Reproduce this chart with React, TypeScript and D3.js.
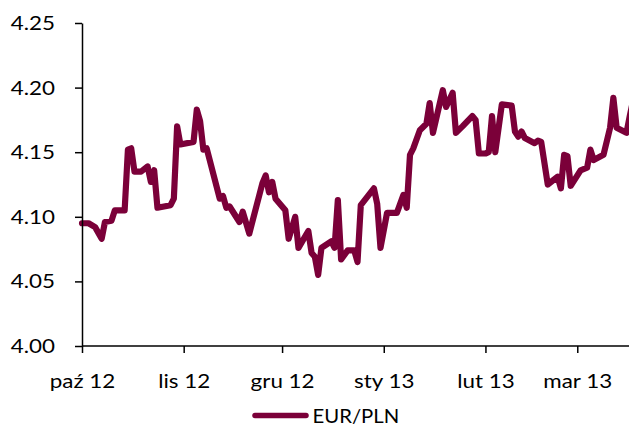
import * as d3 from 'd3';
import { useEffect, useRef } from 'react';

const dates = [
    '2012-10-01', '2012-10-03', '2012-10-05', '2012-10-07', '2012-10-08', '2012-10-10', '2012-10-11',
    '2012-10-13', '2012-10-14', '2012-10-15', '2012-10-16', '2012-10-17', '2012-10-19', '2012-10-21',
    '2012-10-22', '2012-10-23', '2012-10-24', '2012-10-28', '2012-10-29', '2012-10-30', '2012-10-31',
    '2012-11-04', '2012-11-05', '2012-11-06', '2012-11-07', '2012-11-08', '2012-11-12', '2012-11-13',
    '2012-11-14', '2012-11-15', '2012-11-18', '2012-11-19', '2012-11-21', '2012-11-25', '2012-11-26',
    '2012-11-27', '2012-11-28', '2012-11-29', '2012-12-02', '2012-12-03', '2012-12-05', '2012-12-06',
    '2012-12-09', '2012-12-10', '2012-12-11', '2012-12-12', '2012-12-13', '2012-12-16', '2012-12-17',
    '2012-12-18', '2012-12-19', '2012-12-21', '2012-12-23', '2012-12-24', '2012-12-25', '2012-12-29',
    '2012-12-30', '2012-12-31', '2013-01-02', '2013-01-05', '2013-01-07', '2013-01-08', '2013-01-09',
    '2013-01-10', '2013-01-12', '2013-01-14', '2013-01-15', '2013-01-16', '2013-01-19', '2013-01-20',
    '2013-01-22', '2013-01-23', '2013-01-25', '2013-01-28', '2013-01-29', '2013-01-30', '2013-02-01',
    '2013-02-02', '2013-02-03', '2013-02-04', '2013-02-06', '2013-02-09', '2013-02-10', '2013-02-11',
    '2013-02-12', '2013-02-13', '2013-02-16', '2013-02-17', '2013-02-18', '2013-02-20', '2013-02-23',
    '2013-02-24', '2013-02-25', '2013-02-26', '2013-02-27', '2013-03-02', '2013-03-04', '2013-03-05',
    '2013-03-06', '2013-03-09', '2013-03-11', '2013-03-12', '2013-03-13', '2013-03-16', '2013-03-17',
    '2013-03-18',
];

const eurPln = [
    4.095, 4.095, 4.092, 4.083, 4.096, 4.097, 4.105,
    4.105, 4.105, 4.152, 4.153, 4.135, 4.135, 4.139,
    4.127, 4.136, 4.107, 4.109, 4.114, 4.170, 4.156,
    4.158, 4.183, 4.174, 4.152, 4.153, 4.114, 4.116,
    4.107, 4.108, 4.096, 4.104, 4.087, 4.126, 4.132,
    4.119, 4.127, 4.114, 4.105, 4.083, 4.100, 4.076,
    4.089, 4.072, 4.069, 4.055, 4.076, 4.081, 4.076,
    4.113, 4.067, 4.074, 4.074, 4.065, 4.109, 4.122,
    4.110, 4.076, 4.103, 4.103, 4.117, 4.107, 4.148,
    4.153, 4.167, 4.172, 4.188, 4.165, 4.198, 4.185,
    4.196, 4.165, 4.170, 4.178, 4.175, 4.149, 4.149,
    4.150, 4.178, 4.150, 4.187, 4.186, 4.166, 4.162,
    4.166, 4.161, 4.157, 4.159, 4.158, 4.125, 4.131,
    4.122, 4.148, 4.147, 4.124, 4.136, 4.138, 4.152,
    4.144, 4.148, 4.169, 4.192, 4.169, 4.165, 4.178,
    4.190,
];

const yTicks = [4.0, 4.05, 4.1, 4.15, 4.2, 4.25];
const monthTicks = ['2012-10-01', '2012-11-01', '2012-12-01', '2013-01-01', '2013-02-01', '2013-03-01'];
const monthLabels = ['paź 12', 'lis 12', 'gru 12', 'sty 13', 'lut 13', 'mar 13'];
const seriesName = 'EUR/PLN';

export default function App() {
    const chartRef = useRef<SVGSVGElement | null>(null);

    useEffect(() => {
        if (!chartRef.current) return;
        const svg = d3.select(chartRef.current);
        svg.selectAll('*').remove();

        const width = 629;
        const height = 426;
        const color = '#7b0039';
        const font = 'Lato, "Open Sans", sans-serif';
        const stretch = 1.12; // tekst w oryginale jest szerszy

        const parse = d3.utcParse('%Y-%m-%d');
        const pts = dates.map((d, i) => ({ date: parse(d)!, value: eurPln[i] }));

        const x = d3
            .scaleUtc()
            .domain([parse('2012-10-01')!, parse('2013-03-17')!])
            .range([82, 82 + 167 * 3.28]);

        const y = d3.scaleLinear().domain([4.0, 4.25]).range([346, 23]);

        svg.attr('width', width).attr('height', height);

        // linia kursu
        const line = d3
            .line<{ date: Date; value: number }>()
            .x((d) => x(d.date))
            .y((d) => y(d.value));

        svg.append('path')
            .datum(pts)
            .attr('d', line)
            .attr('fill', 'none')
            .attr('stroke', color)
            .attr('stroke-width', 6.2)
            .attr('stroke-linejoin', 'round')
            .attr('stroke-linecap', 'round');

        // oś Y
        const yAxis = svg
            .append('g')
            .attr('transform', `translate(${x.range()[0]},0)`)
            .call(
                d3
                    .axisLeft(y)
                    .tickValues(yTicks)
                    .tickSize(7)
                    .tickSizeOuter(0)
                    .tickPadding(0)
                    .tickFormat(d3.format('.2f')),
            );
        yAxis.select('.domain').attr('stroke', '#000').attr('stroke-width', 1.5);
        yAxis.selectAll('line').attr('stroke', '#000').attr('stroke-width', 1.5);
        yAxis
            .selectAll('text')
            .attr('x', -27 / stretch)
            .attr('transform', `scale(${stretch},1)`)
            .style('font-family', font)
            .style('font-size', '20px')
            .attr('fill', '#000');

        // oś X
        const xAxis = svg
            .append('g')
            .attr('transform', `translate(0,${y(4.0)})`)
            .call(
                d3
                    .axisBottom(x)
                    .tickValues(monthTicks.map((d) => parse(d)!))
                    .tickSize(7)
                    .tickSizeOuter(0)
                    .tickFormat((_, i) => monthLabels[i]),
            );
        xAxis.select('.domain').attr('d', `M${x.range()[0]},0H${width}`).attr('stroke', '#000').attr('stroke-width', 1.5);
        xAxis.selectAll('line').attr('stroke', '#000').attr('stroke-width', 1.5);
        xAxis
            .selectAll('.tick text')
            .attr('y', 0)
            .attr('dy', 0)
            .attr('transform', `translate(0,42) scale(${stretch},1)`)
            .style('font-family', font)
            .style('font-size', '20px')
            .attr('fill', '#000');

        // legenda
        const legend = svg.append('g').attr('transform', 'translate(0,415.5)');
        legend
            .append('line')
            .attr('x1', 255)
            .attr('x2', 306)
            .attr('stroke', color)
            .attr('stroke-width', 5.5)
            .attr('stroke-linecap', 'round');
        legend
            .append('text')
            .attr('transform', 'translate(312.5,7) scale(1.07,1)')
            .style('font-family', font)
            .style('font-size', '19px')
            .attr('fill', '#000')
            .text(seriesName);
    }, []);

    return (
        <svg
            ref={chartRef}
            style={{ position: 'absolute', left: 0, top: 0, display: 'block', overflow: 'hidden' }}
        />
    );
}
